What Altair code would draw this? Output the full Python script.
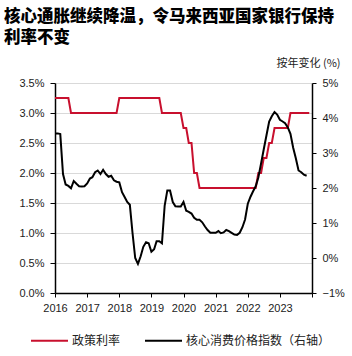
import altair as alt
import pandas as pd

title_lines = ["核心通胀继续降温，令马来西亚国家银行保持", "利率不变"]
right_axis_title = "按年变化 (%)"
series_names = ["政策利率", "核心消费价格指数（右轴）"]
series_colors = ["#C8102E", "#000000"]

# Monthly, starting Jan 2016
policy_rate = [
    3.25, 3.25, 3.25, 3.25, 3.25, 3.25, 3.00, 3.00, 3.00, 3.00, 3.00, 3.00,
    3.00, 3.00, 3.00, 3.00, 3.00, 3.00, 3.00, 3.00, 3.00, 3.00, 3.00, 3.00,
    3.25, 3.25, 3.25, 3.25, 3.25, 3.25, 3.25, 3.25, 3.25, 3.25, 3.25, 3.25,
    3.25, 3.25, 3.25, 3.25, 3.00, 3.00, 3.00, 3.00, 3.00, 3.00, 3.00, 3.00,
    2.75, 2.75, 2.50, 2.50, 2.00, 2.00, 1.75, 1.75, 1.75, 1.75, 1.75, 1.75,
    1.75, 1.75, 1.75, 1.75, 1.75, 1.75, 1.75, 1.75, 1.75, 1.75, 1.75, 1.75,
    1.75, 1.75, 1.75, 1.75, 2.00, 2.00, 2.25, 2.25, 2.50, 2.50, 2.75, 2.75,
    2.75, 2.75, 2.75, 2.75, 3.00, 3.00, 3.00, 3.00, 3.00, 3.00, 3.00, 3.00,
]
core_cpi = [
    3.56, 3.56, 3.54, 2.40, 2.10, 2.06, 1.99, 2.20, 2.12, 2.05, 2.04, 2.05,
    2.13, 2.27, 2.31, 2.45, 2.50, 2.40, 2.52, 2.40, 2.32, 2.35, 2.22, 2.18,
    2.16, 1.88, 1.75, 1.60, 1.52, 0.70, 0.00, -0.17, 0.05, 0.32, 0.45, 0.42,
    0.18, 0.25, 0.48, 0.48, 0.42, 1.50, 1.93, 1.93, 1.60, 1.48, 1.47, 1.47,
    1.60, 1.35, 1.32, 1.27, 1.15, 1.09, 1.09, 1.02, 0.90, 0.80, 0.72, 0.72,
    0.72, 0.77, 0.71, 0.73, 0.80, 0.77, 0.72, 0.67, 0.66, 0.72, 0.88, 1.10,
    1.55, 1.75, 1.90, 2.05, 2.30, 2.70, 3.10, 3.50, 3.90, 4.05, 4.17, 4.10,
    3.95, 3.90, 3.85, 3.73, 3.55, 3.15, 2.85, 2.50, 2.45, 2.38, 2.35,
]
left_ticks = [0, 0.5, 1.0, 1.5, 2.0, 2.5, 3.0, 3.5]
right_ticks = [-1, 0, 1, 2, 3, 4, 5]
year_ticks = [2016, 2017, 2018, 2019, 2020, 2021, 2022, 2023, 2024]

months = pd.date_range("2016-01-01", periods=len(policy_rate), freq="MS")
df_p = pd.DataFrame({"date": months, "value": policy_rate, "series": series_names[0]})
df_c = pd.DataFrame({"date": months[: len(core_cpi)], "value": core_cpi, "series": series_names[1]})

NUM_FONT = "Liberation Sans"
CJK_FONT = "Noto Sans CJK SC"

color = alt.Color(
    "series:N",
    scale=alt.Scale(domain=series_names, range=series_colors),
    legend=alt.Legend(
        title=None, orient="none", legendX=-25, legendY=238, direction="horizontal",
        symbolType="stroke", symbolSize=1369, symbolStrokeWidth=2,
        labelFont=CJK_FONT, labelFontSize=12, labelColor="#222222",
        columnPadding=20, labelOffset=3, labelLimit=0,
    ),
)

x = alt.X(
    "date:T",
    scale=alt.Scale(domain=["2016-01-01", "2024-01-01"]),
    title=None,
    axis=alt.Axis(
        values=[alt.DateTime(year=y, month=1, date=1) for y in year_ticks],
        labelExpr="year(datum.value) < 2024 ? timeFormat(datum.value, '%Y') : ''",
        domainColor="#000000", domainWidth=1.5, tickColor="#000000", tickSize=4,
        labelFont=NUM_FONT, labelFontSize=11, labelColor="#222222", labelPadding=5,
        grid=False, labelFlush=False,
    ),
)

left = alt.Chart(df_p).mark_line(strokeWidth=2).encode(
    x=x,
    y=alt.Y(
        "value:Q",
        scale=alt.Scale(domain=[0, 3.5], nice=False, zero=False),
        title=None,
        axis=alt.Axis(
            orient="left", values=left_ticks,
            labelExpr="format(datum.value, '.1f') + '%'",
            grid=True, gridColor="#D9D9D9", gridWidth=1,
            domainColor="#000000", domainWidth=1.5, tickColor="#000000", tickSize=5,
            labelFont=NUM_FONT, labelFontSize=11, labelColor="#222222", labelPadding=6,
        ),
    ),
    color=color,
)

right = alt.Chart(df_c).mark_line(strokeWidth=2).encode(
    x=x,
    y=alt.Y(
        "value:Q",
        scale=alt.Scale(domain=[-1, 5], nice=False, zero=False),
        axis=alt.Axis(
            orient="right", values=right_ticks,
            labelExpr="format(datum.value, 'd') + '%'",
            grid=False,
            domainColor="#000000", domainWidth=1.5, tickColor="#000000", tickSize=4,
            labelFont=NUM_FONT, labelFontSize=11, labelColor="#222222", labelPadding=6,
            title=right_axis_title, titleAngle=0, titleAlign="right", titleBaseline="middle",
            titleX=28, titleY=-20, titleFont=CJK_FONT, titleFontSize=11,
            titleFontWeight="normal", titleColor="#222222",
        ),
    ),
    color=color,
)

chart = (
    alt.layer(left, right)
    .resolve_scale(y="independent")
    .properties(
        width=257,
        height=210,
        autosize=alt.AutoSizeParams(type="none"),
        padding={"left": 55, "top": 83, "right": 40, "bottom": 63},
        background="white",
        title=alt.TitleParams(
            text=title_lines, anchor="start", frame="group", fontSize=16.5,
            font=CJK_FONT, fontWeight=900, color="#000000", dx=-51,
            lineHeight=21, offset=11,
        ),
    )
    .configure_view(stroke=None)
)

chart.save("out.html", embed_options={"renderer": "svg", "actions": False})
